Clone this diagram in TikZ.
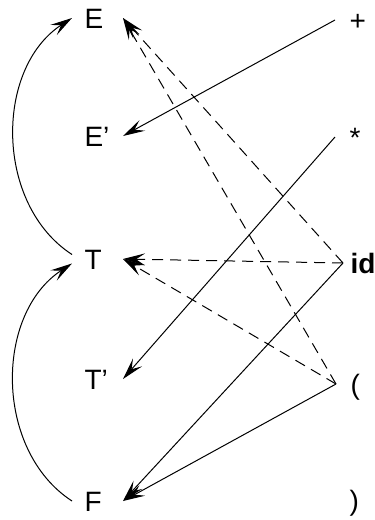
\documentclass[tikz,border=0pt]{standalone}
\usepackage{fontspec}
\setmainfont{Liberation Sans}
\usetikzlibrary{arrows.meta}

\begin{document}
\begin{tikzpicture}[
  x=1pt, y=-1pt,
  line width=1pt,
  sym/.style={anchor=west, text width=26pt, inner xsep=12pt, inner ysep=2pt,
    text height=20pt, text depth=0pt, font=\fontsize{28}{32}\selectfont},
  tok/.style={anchor=west, inner xsep=14pt, inner ysep=2pt,
    text height=20pt, text depth=0pt, font=\fontsize{28}{32}\selectfont},
  edge/.style={-{Stealth[length=22pt,width=12pt,inset=9pt]}},
  guess/.style={edge, dash pattern=on 11pt off 7pt}
]
  \useasboundingbox (0,0) rectangle (375,520);

  % nonterminals
  \node[sym] (E)  at (72,18)  {E};
  \node[sym] (Ep) at (72,136) {E'};
  \node[sym] (T)  at (72,259) {T};
  \node[sym] (Tp) at (72,379) {T'};
  \node[sym] (F)  at (72,501) {F};

  % terminals
  \node[tok] (plus) at (335,20)  {+};
  \node[tok] (star) at (335,137) {*};
  \node[tok, inner xsep=7pt, font=\fontsize{28}{32}\selectfont\bfseries] (id) at (343,263) {id};
  \node[tok] (lp) at (336,384) {(};
  \node[tok] (rp) at (335,500) {)};

  \draw[edge] (plus.west) -- (Ep.east);
  \draw[edge] (star.west) -- (Tp.east);
  \draw[guess] (id.west) -- (T.east);
  \draw[guess] (id.west) -- (E.east);
  \draw[edge] (id.west) -- (F.east);
  \draw[guess] (lp.west) -- (E.east);
  \draw[guess] (lp.west) -- (T.east);
  \draw[edge] (lp.west) -- (F.east);

  \draw[edge] (T.170) to[bend left=57] (E.west);
  \draw[edge] (F.west) to[bend left=57] (T.190);
\end{tikzpicture}
\end{document}
